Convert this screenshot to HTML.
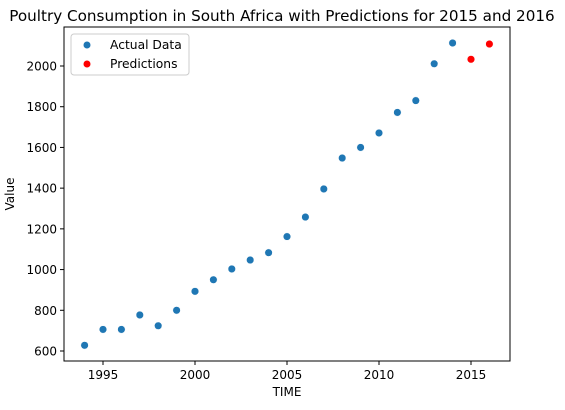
<!DOCTYPE html>
<html><head><meta charset="utf-8"><style>
body{margin:0;background:#fff;}
svg{font-family:"DejaVu Sans","Liberation Sans",sans-serif;}
</style></head><body>
<svg id="chart" width="565" height="405">
<text x="282" y="21" text-anchor="middle" font-size="15.2" fill="#000">Poultry Consumption in South Africa with Predictions for 2015 and 2016</text>
<rect x="64" y="27" width="446" height="334" fill="none" stroke="#000" stroke-width="1"/>
<g id="xt"></g>
<g id="yt"></g>
<g id="pts"></g>
<text x="287" y="396" text-anchor="middle" font-size="12">TIME</text>
<text transform="translate(14,194) rotate(-90)" text-anchor="middle" font-size="12">Value</text>
<g>
<rect x="71" y="34" width="118" height="41" rx="3" fill="#fff" stroke="#ccc"/>
<circle cx="87" cy="45" r="3.5" fill="#1f77b4"/>
<text x="110" y="49" font-size="12.3">Actual Data</text>
<circle cx="87" cy="64" r="3.5" fill="#ff0000"/>
<text x="110" y="68" font-size="12.3">Predictions</text>
</g>
</svg>
<script>
const years=[1994,1995,1996,1997,1998,1999,2000,2001,2002,2003,2004,2005,2006,2007,2008,2009,2010,2011,2012,2013,2014];
const actual=[628,706,706,777,724,800,893,950,1003,1047,1083,1162,1258,1396,1548,1600,1671,1772,1830,2011,2113];
const predYears=[2015,2016];
const predValues=[2033,2108];
const xTicks=[1995,2000,2005,2010,2015];
const yTicks=[600,800,1000,1200,1400,1600,1800,2000];
const NS="http://www.w3.org/2000/svg";
function xs(v){return 103+(v-1995)*18.4;}
function ys(v){return 351-(v-600)*(285/1400);}
const xt=document.getElementById('xt'),yt=document.getElementById('yt'),pts=document.getElementById('pts');
function mk(tag,attrs,parent){const e=document.createElementNS(NS,tag);for(const k in attrs)e.setAttribute(k,attrs[k]);parent.appendChild(e);return e;}
xTicks.forEach(t=>{
  const l=mk('line',{x1:xs(t),x2:xs(t),y1:361,y2:365,stroke:'#000'},xt);
  
  
  const tx=mk('text',{x:xs(t),y:379,'text-anchor':'middle','font-size':'12'},xt);
  tx.textContent=t;
  
  
});
yTicks.forEach(t=>{
  const l=mk('line',{x1:60,x2:64,y1:ys(t),y2:ys(t),stroke:'#000'},yt);
  
  
  const tx=mk('text',{x:57,y:ys(t)+4.5,'text-anchor':'end','font-size':'12'},yt);
  tx.textContent=t;
  
  
});
years.forEach((y,i)=>{
  const c=mk('circle',{cx:xs(y),cy:ys(actual[i]),r:3.8,fill:'#1f77b4',stroke:'#fff','stroke-width':0.5},pts);
  
  
});
predYears.forEach((y,i)=>{
  const c=mk('circle',{cx:xs(y),cy:ys(predValues[i]),r:3.8,fill:'#ff0000',stroke:'#fff','stroke-width':0.5},pts);
  
  
});
</script>
</body></html>
